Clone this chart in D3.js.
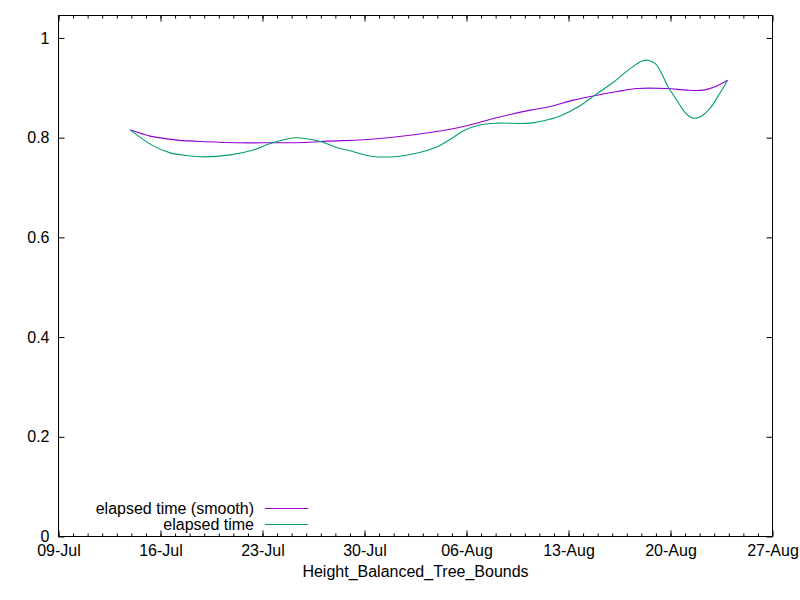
<!DOCTYPE html>
<html><head><meta charset="utf-8">
<script src="https://cdn.jsdelivr.net/npm/d3@7"></script>
<style>
body{margin:0;background:#fff;}
text{font-family:"Liberation Sans",Arial,sans-serif;font-size:16px;fill:#000;}
</style></head>
<body><svg id="c" width="800" height="600"></svg>
<script>
// data
const xTickLabels = ["09-Jul","16-Jul","23-Jul","30-Jul","06-Aug","13-Aug","20-Aug","27-Aug"];
const yTickValues = [0,0.2,0.4,0.6,0.8,1];
const seriesNames = ["elapsed time (smooth)","elapsed time"];
const smoothDates = ["07-13 22:00","07-15 07:00","07-17 04:00","07-19 05:00","07-21 06:00","07-23 13:00","07-25 22:00","07-27 11:00","07-29 22:00","08-01 06:00","08-03 12:00","08-05 19:00","08-08 03:00","08-10 09:00","08-11 18:00","08-13 08:00","08-14 23:00","08-16 08:00","08-17 17:00","08-19 18:00","08-21 03:00","08-22 06:00","08-22 22:00","08-23 22:00"];
const smoothValues = [0.8157,0.8031,0.7951,0.7917,0.7897,0.7897,0.7903,0.7931,0.7957,0.8017,0.8103,0.8224,0.8404,0.8552,0.8624,0.8752,0.8852,0.8924,0.8985,0.8985,0.8953,0.8953,0.9004,0.9153];
const rawDates = ["07-13 22:00","07-15 12:00","07-16 16:00","07-17 20:00","07-18 22:00","07-20 19:00","07-22 09:00","07-23 13:00","07-25 06:00","07-26 23:00","07-28 05:00","07-29 00:00","07-30 14:00","08-01 06:00","08-02 15:00","08-04 00:00","08-05 02:00","08-05 19:00","08-06 23:00","08-08 03:00","08-10 09:00","08-11 18:00","08-12 11:00","08-13 19:00","08-14 20:00","08-16 02:00","08-16 18:00","08-17 14:00","08-18 01:00","08-18 11:00","08-18 23:00","08-19 10:00","08-19 20:00","08-20 11:00","08-21 00:00","08-21 13:00","08-22 01:00","08-22 18:00","08-23 10:00","08-23 22:00"];
const rawValues = [0.8157,0.7835,0.7695,0.7641,0.7615,0.7655,0.7751,0.7883,0.7997,0.7923,0.7791,0.7737,0.7623,0.7623,0.7691,0.7817,0.8003,0.8137,0.8257,0.8291,0.8291,0.8372,0.8438,0.8640,0.8858,0.9110,0.9273,0.9459,0.9539,0.9553,0.9485,0.9273,0.9019,0.8739,0.8504,0.8392,0.8418,0.8604,0.8904,0.9153];
const colors = ["#9400d3","#009e73"];

const parse = d3.timeParse("%Y-%m-%d %H:%M");
const p = s => parse("2019-" + s);
const L = 58.5, R = 772.5, T = 15.5, B = 536.5;
const start = p("07-09 00:00"), end = p("08-27 00:00");
const x = d3.scaleTime().domain([start, end]).range([L, R]);
const y = d3.scaleLinear().domain([0, 1.045]).range([B, T]);
const svg = d3.select("#c");
const majorTicks = xTickLabels.map((_,k)=>d3.timeDay.offset(start, 7*k));
const minorTicks = d3.timeDay.range(start, end);

// minor x ticks bottom/top
svg.append("g").attr("transform",`translate(0,${B})`)
  .call(d3.axisBottom(x).tickValues(minorTicks).tickSize(-3).tickFormat("")).call(g=>g.select(".domain").remove());
svg.append("g").attr("transform",`translate(0,${T})`)
  .call(d3.axisTop(x).tickValues(minorTicks).tickSize(-3).tickFormat("")).call(g=>g.select(".domain").remove());
// major x ticks
svg.append("g").attr("transform",`translate(0,${B})`)
  .call(d3.axisBottom(x).tickValues(majorTicks).tickSize(-6).tickPadding(8).tickFormat((d,i)=>xTickLabels[i]))
  .call(g=>g.select(".domain").remove());
svg.append("g").attr("transform",`translate(0,${T})`)
  .call(d3.axisTop(x).tickValues(majorTicks).tickSize(-6).tickFormat(""))
  .call(g=>g.select(".domain").remove());
// y ticks
svg.append("g").attr("transform",`translate(${L},0)`)
  .call(d3.axisLeft(y).tickValues(yTickValues).tickSize(-6).tickPadding(9).tickFormat(d3.format("~g")))
  .call(g=>g.select(".domain").remove());
svg.append("g").attr("transform",`translate(${R},0)`)
  .call(d3.axisRight(y).tickValues(yTickValues).tickSize(-6).tickFormat(""))
  .call(g=>g.select(".domain").remove());
svg.selectAll(".tick line").attr("stroke","#000");
svg.selectAll(".tick text").style("font-family","'Liberation Sans',Arial,sans-serif").style("font-size","16px").attr("fill","#000");

// border
svg.append("rect").attr("x",L).attr("y",T).attr("width",R-L).attr("height",B-T)
  .attr("fill","none").attr("stroke","#000").attr("stroke-width",1);

// lines
const line = d3.line().x(d=>x(d[0])).y(d=>y(d[1])).curve(d3.curveCatmullRom.alpha(0.5));
const sData = smoothDates.map((d,i)=>[p(d),smoothValues[i]]);
const rData = rawDates.map((d,i)=>[p(d),rawValues[i]]);
svg.append("path").datum(sData).attr("d",line).attr("fill","none").attr("stroke",colors[0]).attr("stroke-width",1.1);
svg.append("path").datum(rData).attr("d",line).attr("fill","none").attr("stroke",colors[1]).attr("stroke-width",1.1);

// legend
const legY = [508.5, 524.5];
seriesNames.forEach((n,i)=>{
  svg.append("text").attr("x",254).attr("y",legY[i]).attr("dy","0.35em").attr("text-anchor","end").text(n);
  svg.append("line").attr("x1",265).attr("x2",308).attr("y1",legY[i]).attr("y2",legY[i]).attr("stroke",colors[i]).attr("stroke-width",1.1);
});

// x label
svg.append("text").attr("x",(L+R)/2).attr("y",577).attr("text-anchor","middle").text("Height_Balanced_Tree_Bounds");
</script></body></html>
